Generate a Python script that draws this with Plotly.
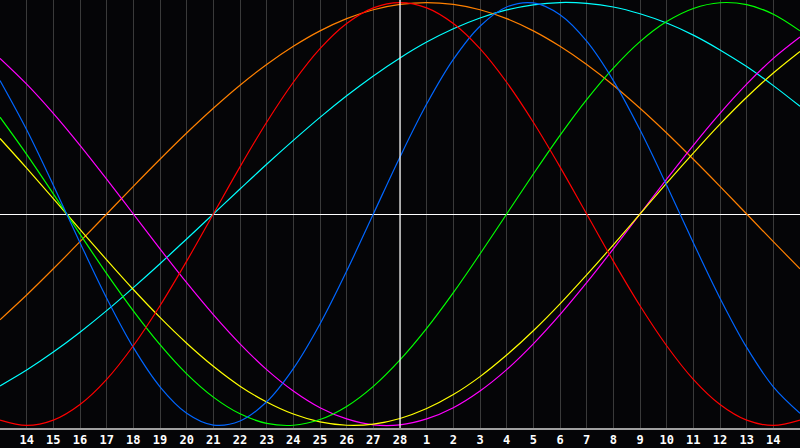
import plotly.graph_objects as go

# Day index: -1 .. 29 (index 0 = day 14, index 14 = day 28 "today")
day_index = list(range(-1, 30))
tick_index = list(range(0, 29))
tick_labels = ["14", "15", "16", "17", "18", "19", "20", "21", "22", "23", "24",
               "25", "26", "27", "28", "1", "2", "3", "4", "5", "6", "7", "8",
               "9", "10", "11", "12", "13", "14"]
today_index = 14

red = [-97.5, -100, -97.5, -90.1, -78.2, -62.3, -43.4, -22.3, 0, 22.3, 43.4,
       62.3, 78.2, 90.1, 97.5, 100, 97.5, 90.1, 78.2, 62.3, 43.4, 22.3, 0,
       -22.3, -43.4, -62.3, -78.2, -90.1, -97.5, -100, -97.5]
orange = [-50.0, -38.3, -25.9, -13.1, 0, 13.1, 25.9, 38.3, 50.0, 60.9, 70.7,
          79.3, 86.6, 92.4, 96.6, 99.1, 100, 99.1, 96.6, 92.4, 86.6, 79.3,
          70.7, 60.9, 50.0, 38.3, 25.9, 13.1, 0, -13.1, -25.9]
yellow = [35.7, 21.7, 7.3, -7.3, -21.7, -35.7, -48.9, -61.1, -72.0, -81.4,
          -88.9, -94.6, -98.3, -99.9, -99.4, -96.7, -92.0, -85.4, -76.9, -66.7,
          -55.2, -42.5, -28.8, -14.6, 0, 14.6, 28.8, 42.5, 55.2, 66.7, 76.9]
green = [45.8, 28.2, 9.5, -9.5, -28.2, -45.8, -61.8, -75.6, -86.6, -94.5,
         -99.0, -99.9, -97.2, -91.0, -81.5, -69.0, -54.1, -37.2, -18.9, 0,
         18.9, 37.2, 54.1, 69.0, 81.5, 91.0, 97.2, 99.9, 99.0, 94.5, 86.6]
cyan = [-81.3, -73.8, -65.3, -55.9, -45.7, -34.8, -23.5, -11.8, 0, 11.8, 23.5,
        34.8, 45.7, 55.9, 65.3, 73.8, 81.3, 87.6, 92.7, 96.5, 98.9, 100.0,
        99.6, 97.9, 94.7, 90.3, 84.6, 77.6, 69.7, 60.7, 50.9]
blue = [63.1, 39.8, 13.6, -13.6, -39.8, -63.1, -81.7, -94.2, -99.8, -97.9,
        -88.8, -73.1, -52.0, -27.0, 0, 27.0, 52.0, 73.1, 88.8, 97.9, 99.8,
        94.2, 81.7, 63.1, 39.8, 13.6, -13.6, -39.8, -63.1, -81.7, -94.2]
magenta = [73.6, 61.4, 47.6, 32.5, 16.5, 0, -16.5, -32.5, -47.6, -61.4, -73.6,
           -83.7, -91.6, -96.9, -99.7, -99.7, -96.9, -91.6, -83.7, -73.6,
           -61.4, -47.6, -32.5, -16.5, 0, 16.5, 32.5, 47.6, 61.4, 73.6, 83.7]

series = [
    ("cyan", cyan, "#00ffff"),
    ("orange", orange, "#ff8000"),
    ("magenta", magenta, "#ff00ff"),
    ("yellow", yellow, "#ffff00"),
    ("green", green, "#00ff00"),
    ("blue", blue, "#0066ff"),
    ("red", red, "#ff0000"),
]

fig = go.Figure()
for name, vals, col in series:
    fig.add_trace(go.Scatter(
        x=day_index, y=vals, mode="lines", name=name,
        line=dict(color=col, width=1.2, shape="spline", smoothing=1.0),
        hoverinfo="skip",
    ))

fig.add_shape(type="line", xref="x", yref="paper",
              x0=today_index, x1=today_index, y0=0, y1=1,
              line=dict(color="#ffffff", width=1.2))

fig.update_layout(
    width=800, height=448, autosize=False,
    margin=dict(l=0, r=0, t=0, b=20, pad=0),
    paper_bgcolor="#050507",
    plot_bgcolor="#050507",
    showlegend=False,
    xaxis=dict(
        range=[-1, 29], tickvals=tick_index, ticktext=tick_labels,
        showgrid=True, gridcolor="#3a3a3a", gridwidth=1,
        zeroline=False, ticks="", automargin=False,
        tickfont=dict(family="DejaVu Sans Mono", size=12, color="#ffffff", weight="bold"),
        showline=True, linecolor="#a0a0a0", linewidth=2, mirror=True,
        fixedrange=True,
    ),
    yaxis=dict(
        range=[-101.2, 101.2], showgrid=False, showticklabels=False, ticks="",
        zeroline=True, zerolinecolor="#ffffff", zerolinewidth=1.2,
        showline=True, linecolor="#a0a0a0", linewidth=2, mirror=True,
        fixedrange=True, automargin=False,
    ),
)

fig.write_html(
    "out.html",
    config={"displayModeBar": False},
    post_script="document.body.style.margin='0';document.body.style.background='#050507';",
)
